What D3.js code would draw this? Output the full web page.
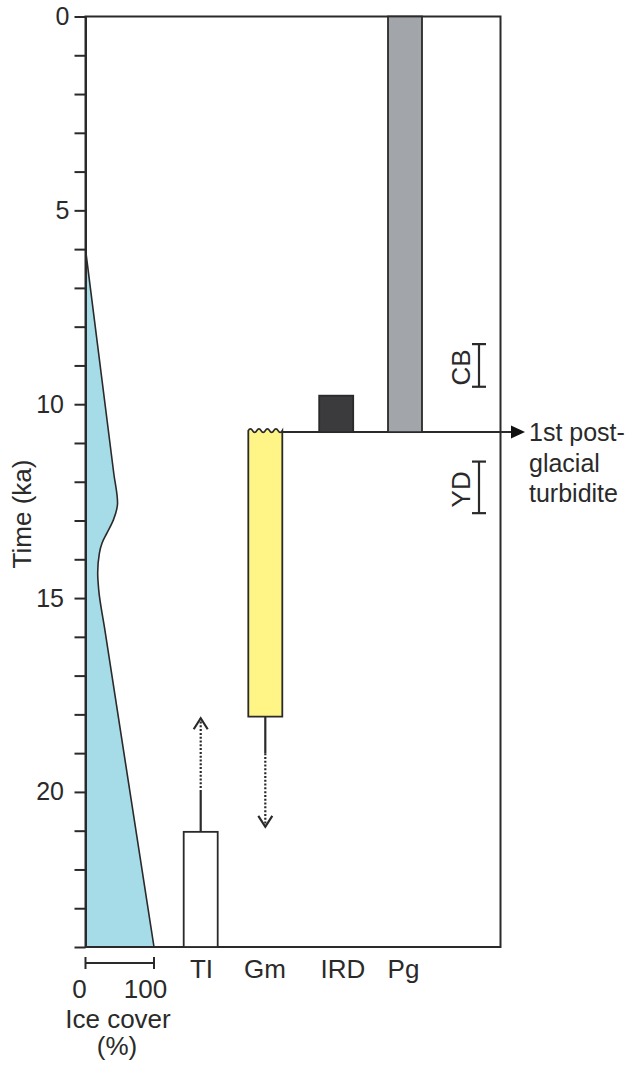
<!DOCTYPE html>
<html>
<head>
<meta charset="utf-8">
<script src="https://cdn.jsdelivr.net/npm/d3@7"></script>
<style>
  html, body { margin: 0; padding: 0; background: #ffffff; }
  svg { display: block; font-family: Arial, "Liberation Sans", Helvetica, sans-serif; }
</style>
</head>
<body>
<svg id="chart" width="629" height="1068"></svg>
<script>
// ---- data ----
// Age axis (ka)
const ageTickLabels = [0, 5, 10, 15, 20];
const ageMax = 24;

// Ice cover (%) through time
const iceAge   = [6, 7, 11.8, 12.55, 12.99, 13.32, 13.58, 13.84, 14.35, 14.79, 15.8, 23, 24];
const iceCover = [0, 7.1, 41.4, 46.8, 40.6, 31.4, 24.2, 20.3, 17.8, 19.3, 28.1, 91.2, 100];

// Sediment units: top and base age (ka)
const units    = ["TI", "Gm", "IRD", "Pg"];
const unitTop  = [21.03, 10.72, 9.78, 0];
const unitBase = [24, 18.06, 10.72, 10.72];

// Possible age extension beyond each unit (solid part, then dotted part)
const rangeUnits    = ["TI", "Gm"];
const rangeFrom     = [21.03, 18.06];
const rangeSolidTo  = [20.0, 19.0];
const rangeDottedTo = [18.1, 20.9];

// Climate events (ka)
const eventNames = ["CB", "YD"];
const eventStart = [8.45, 11.48];
const eventEnd   = [9.55, 12.81];

// First post-glacial turbidite
const turbiditeAge = 10.72;
const turbiditeLabel = ["1st post-", "glacial", "turbidite"];

// ---- layout & style ----
const ink = "#2a2a2a";
const unitFill = { TI: "#ffffff", Gm: "#fff486", IRD: "#3b3b3d", Pg: "#a2a5a9" };
const iceFill = "#a6dce8";
const fs = 26;

const svg = d3.select("#chart");
const plot = { left: 85.5, right: 500.5, top: 16.5, bottom: 947 };

const y = d3.scaleLinear().domain([0, ageMax]).range([plot.top, plot.bottom]);
const xIce = d3.scaleLinear().domain([0, 100]).range([plot.left, 154]);
const xUnit = d3.scaleOrdinal().domain(units).range([200.7, 265.3, 336.2, 405]);
const unitLabelX = d3.scaleOrdinal().domain(units).range([201.5, 265, 343, 403.5]);
const barW = 34;

// ---- ice cover area ----
const iceData = iceAge.map((a, i) => ({ age: a, v: iceCover[i] }));
const area = d3.area()
  .y(d => y(d.age))
  .x0(xIce(0))
  .x1(d => xIce(d.v))
  .curve(d3.curveMonotoneY);
svg.append("path").datum(iceData)
  .attr("d", area)
  .attr("fill", iceFill);
svg.append("path").datum(iceData)
  .attr("d", d3.line().y(d => y(d.age)).x(d => xIce(d.v)).curve(d3.curveMonotoneY))
  .attr("fill", "none").attr("stroke", ink).attr("stroke-width", 1.6);

// ---- frame ----
svg.append("rect")
  .attr("x", plot.left).attr("y", plot.top)
  .attr("width", plot.right - plot.left).attr("height", plot.bottom - plot.top)
  .attr("fill", "none").attr("stroke", ink).attr("stroke-width", 2);

// ---- age axis ----
const axis = d3.axisLeft(y)
  .tickValues(d3.range(0, ageMax + 1, 1))
  .tickSize(11).tickSizeOuter(0).tickPadding(5)
  .tickFormat(d => ageTickLabels.includes(d) ? d : "");
const gAxis = svg.append("g")
  .attr("transform", `translate(${plot.left},0)`)
  .call(axis);
gAxis.select(".domain").attr("stroke", ink).attr("stroke-width", 2);
gAxis.selectAll(".tick line").attr("stroke", ink).attr("stroke-width", 2);
gAxis.selectAll(".tick text")
  .attr("font-size", 25).attr("fill", ink)
  .attr("font-family", "Arial, 'Liberation Sans', sans-serif")
  .attr("dx", d => d >= 10 ? -5.5 : 0);

svg.append("text")
  .attr("transform", `translate(31,514) rotate(-90)`)
  .attr("text-anchor", "middle")
  .attr("font-size", fs).attr("fill", ink)
  .text("Time (ka)");

// ---- ice cover scale bracket ----
const brY = 963;
const gBr = svg.append("g").attr("stroke", ink).attr("stroke-width", 2);
gBr.append("line").attr("x1", xIce(0)).attr("x2", xIce(100)).attr("y1", brY).attr("y2", brY);
[0, 100].forEach(v => {
  gBr.append("line").attr("x1", xIce(v)).attr("x2", xIce(v)).attr("y1", brY - 6).attr("y2", brY + 6);
});
[0, 100].forEach(v => {
  svg.append("text").attr("x", xIce(v) - (v === 0 ? 6 : 8.5)).attr("y", 998)
    .attr("text-anchor", "middle").attr("font-size", fs).attr("fill", ink).text(v);
});
svg.append("text").attr("x", 118).attr("y", 1028)
  .attr("text-anchor", "middle").attr("font-size", fs).attr("fill", ink).text("Ice cover");
svg.append("text").attr("x", 117).attr("y", 1055)
  .attr("text-anchor", "middle").attr("font-size", fs).attr("fill", ink).text("(%)");

// ---- turbidite horizon ----
const yT = y(turbiditeAge);
svg.append("line")
  .attr("x1", xUnit("Gm") + barW / 2).attr("x2", 513)
  .attr("y1", yT).attr("y2", yT)
  .attr("stroke", ink).attr("stroke-width", 2);
svg.append("path")
  .attr("d", `M511,${yT - 6.5}L525,${yT}L511,${yT + 6.5}Z`)
  .attr("fill", "#111");
turbiditeLabel.forEach((t, i) => {
  svg.append("text").attr("x", 529).attr("y", 441 + i * 30.5)
    .attr("font-size", 25).attr("fill", ink).text(t);
});

// ---- sediment unit bars ----
units.forEach((u, i) => {
  const cx = xUnit(u), x0 = cx - barW / 2, x1 = cx + barW / 2;
  const yt = y(unitTop[i]), yb = y(unitBase[i]);
  if (u === "Gm") {
    // eroded (wavy) top
    const p = d3.path();
    const n = 8, step = barW / n;
    p.moveTo(x0, yt - 1.5);
    for (let k = 0; k < n; k++) {
      const cy = (k % 2 === 0) ? yt - 5 : yt + 2;
      p.quadraticCurveTo(x0 + step * (k + 0.5), cy, x0 + step * (k + 1), yt - 1.5);
    }
    p.lineTo(x1, yb);
    p.lineTo(x0, yb);
    p.closePath();
    svg.append("path").attr("d", p.toString())
      .attr("fill", unitFill[u]).attr("stroke", ink).attr("stroke-width", 1.8);
  } else {
    svg.append("rect")
      .attr("x", x0).attr("y", yt).attr("width", barW).attr("height", yb - yt)
      .attr("fill", unitFill[u]).attr("stroke", ink).attr("stroke-width", 1.8);
  }
  svg.append("text").attr("x", unitLabelX(u)).attr("y", 978)
    .attr("text-anchor", "middle").attr("font-size", fs).attr("fill", ink).text(u);
});

// ---- age range extensions ----
rangeUnits.forEach((u, i) => {
  const cx = xUnit(u);
  const y0 = y(rangeFrom[i]), y1 = y(rangeSolidTo[i]), y2 = y(rangeDottedTo[i]);
  svg.append("line").attr("x1", cx).attr("x2", cx).attr("y1", y0).attr("y2", y1)
    .attr("stroke", ink).attr("stroke-width", 2.2);
  svg.append("line").attr("x1", cx).attr("x2", cx).attr("y1", y1).attr("y2", y2)
    .attr("stroke", ink).attr("stroke-width", 2.2).attr("stroke-dasharray", "2,1.8");
  const dir = Math.sign(y2 - y1); // +1 downward, -1 upward
  svg.append("path")
    .attr("d", `M${cx - 7},${y2 - dir * 11}L${cx},${y2}L${cx + 7},${y2 - dir * 11}`)
    .attr("fill", "none").attr("stroke", ink).attr("stroke-width", 2.2);
});

// ---- climate events ----
const evX = 479;
eventNames.forEach((e, i) => {
  const ya = y(eventStart[i]), yb = y(eventEnd[i]);
  const g = svg.append("g").attr("stroke", ink).attr("stroke-width", 2.2);
  g.append("line").attr("x1", evX).attr("x2", evX).attr("y1", ya).attr("y2", yb);
  g.append("line").attr("x1", evX - 7).attr("x2", evX + 7).attr("y1", ya).attr("y2", ya);
  g.append("line").attr("x1", evX - 7).attr("x2", evX + 7).attr("y1", yb).attr("y2", yb);
  svg.append("text")
    .attr("transform", `translate(470,${(ya + yb) / 2 + 2}) rotate(-90)`)
    .attr("text-anchor", "middle").attr("font-size", fs).attr("fill", ink).text(e);
});
</script>
</body>
</html>
